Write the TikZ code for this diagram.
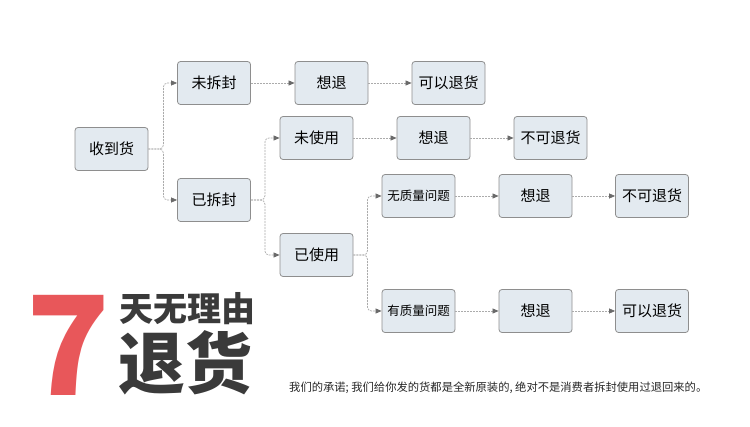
\documentclass[tikz,border=0pt]{standalone}
\usepackage{fontspec}
\setmainfont{Noto Sans CJK SC}
\usetikzlibrary{arrows.meta}
\definecolor{boxfill}{HTML}{E3EAF0}
\definecolor{boxline}{HTML}{8E8E8E}
\definecolor{linkgray}{HTML}{ABABAB}
\definecolor{tipgray}{HTML}{6A6A6A}
\definecolor{sevenred}{HTML}{E8575A}
\definecolor{titlegray}{HTML}{3A3A3A}
\tikzset{
  caja/.style={draw=boxline, fill=boxfill, line width=0.8pt, rounded corners=3pt,
    minimum width=73pt, minimum height=43pt, inner sep=0pt,
    font=\fontsize{15}{15}\selectfont},
  cajachica/.style={caja, font=\fontsize{12.5}{12.5}\selectfont},
  enlace/.style={draw=linkgray, line width=0.7pt, dash pattern=on 2pt off 1pt,
    -{Triangle[length=6pt,width=5pt,color=tipgray]}},
}
\begin{document}
\begin{tikzpicture}[x=1pt,y=-1pt]
                \useasboundingbox (0,0) rectangle (750,427);
                % Cajas
                \node[caja] (recibido) at (111.5,149) {收到货};
                \node[caja] (sinabrir) at (214,83) {未拆封};
                \node[caja] (quiere1) at (331.5,83) {想退};
                \node[caja] (devolver1) at (448.5,83) {可以退货};
                \node[caja] (abierto) at (214,200) {已拆封};
                \node[caja] (sinusar) at (316.5,138) {未使用};
                \node[caja] (quiere2) at (433.5,138) {想退};
                \node[caja] (nodevolver2) at (550.5,138) {不可退货};
                \node[caja] (usado) at (316.5,255) {已使用};
                \node[cajachica] (sindefecto) at (418.5,196) {无质量问题};
                \node[caja] (quiere3) at (535.5,196) {想退};
                \node[caja] (nodevolver3) at (652,196) {不可退货};
                \node[cajachica] (condefecto) at (418.5,311) {有质量问题};
                \node[caja] (quiere4) at (535.5,311) {想退};
                \node[caja] (devolver4) at (652,311) {可以退货};
                % Ramas
                \draw[enlace, rounded corners=4pt] (recibido.east) -- ++(15,0) |- (sinabrir.west);
                \draw[enlace, rounded corners=4pt] (recibido.east) -- ++(15,0) |- (abierto.west);
                \draw[enlace, rounded corners=4pt] (abierto.east) -- ++(14,0) |- (sinusar.west);
                \draw[enlace, rounded corners=4pt] (abierto.east) -- ++(14,0) |- (usado.west);
                \draw[enlace, rounded corners=4pt] (usado.east) -- ++(14,0) |- (sindefecto.west);
                \draw[enlace, rounded corners=4pt] (usado.east) -- ++(14,0) |- (condefecto.west);
                % Flechas rectas
                \draw[enlace] (sinabrir.east) -- (quiere1.west);
                \draw[enlace] (quiere1.east) -- (devolver1.west);
                \draw[enlace] (sinusar.east) -- (quiere2.west);
                \draw[enlace] (quiere2.east) -- (nodevolver2.west);
                \draw[enlace] (sindefecto.east) -- (quiere3.west);
                \draw[enlace] (quiere3.east) -- (nodevolver3.west);
                \draw[enlace] (condefecto.east) -- (quiere4.west);
                \draw[enlace] (quiere4.east) -- (devolver4.west);
                % Titulo
                \node[anchor=base, inner sep=0pt, text=sevenred,
                  font=\fontsize{138}{138}\selectfont\bfseries] (siete) at (69,396) {7};
                \node[anchor=base west, inner sep=0pt, text=titlegray,
                  font=\fontsize{34}{34}\selectfont\bfseries] (lema) at (119,322) {天无理由};
                \node[anchor=base west, inner sep=0pt, text=titlegray,
                  font=\fontsize{67}{67}\selectfont\bfseries] (retorno) at (118,389) {退货};
                \node[anchor=west, inner sep=0pt, text=black!85,
                  font=\fontsize{11.3}{11.3}\selectfont] (promesa) at (289,388)
                  {我们的承诺; 我们给你发的货都是全新原装的, 绝对不是消费者拆封使用过退回来的。};
                \end{tikzpicture}
\end{document}
